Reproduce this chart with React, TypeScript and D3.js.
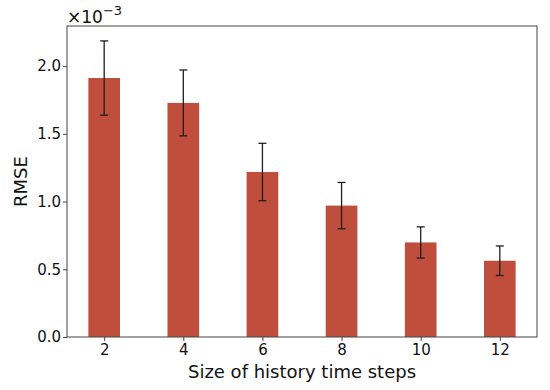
import { useEffect, useRef } from 'react';
import * as d3 from 'd3';

const categories = ['2', '4', '6', '8', '10', '12'];
const rmse = [1.912, 1.728, 1.218, 0.97, 0.698, 0.563];
const rmseErr = [0.274, 0.243, 0.212, 0.171, 0.115, 0.109];
const yTicks = [0, 0.5, 1.0, 1.5, 2.0];

const W = 550;
const H = 390;

export default function App() {
  const svgRef = useRef<SVGSVGElement>(null);

  useEffect(() => {
    if (!svgRef.current) return;
    const margin = { top: 26, right: 13, bottom: 53, left: 67 };
    const innerW = W - margin.left - margin.right;
    const innerH = H - margin.top - margin.bottom;
    const font = 'DejaVu Sans, sans-serif';

    const svg = d3.select(svgRef.current);
    svg.selectAll('*').remove();

    const g = svg.append('g').attr('transform', `translate(${margin.left},${margin.top})`);

    // matplotlib-style linear x: bars at 0..n-1, width 0.4, 5% margins
    const n = categories.length;
    const span = n - 1 + 0.4;
    const x = d3.scaleLinear()
      .domain([-0.2 - span * 0.05, n - 1 + 0.2 + span * 0.05])
      .range([0, innerW]);
    const barW = x(0.4) - x(0);

    const y = d3.scaleLinear().domain([0, 2.296]).range([innerH, 0]);

    // Bars
    g.selectAll('rect.bar')
      .data(rmse)
      .join('rect')
      .attr('class', 'bar')
      .attr('x', (_, i) => x(i) - barW / 2)
      .attr('width', barW)
      .attr('y', d => y(d))
      .attr('height', d => innerH - y(d))
      .attr('fill', '#bf4f3c');

    // Error bars
    const cap = 4;
    rmse.forEach((d, i) => {
      const cx = x(i);
      const lo = y(d - rmseErr[i]);
      const hi = y(d + rmseErr[i]);
      const eg = g.append('g').attr('stroke', '#1f1f1f').attr('stroke-width', 1.3);
      eg.append('line').attr('x1', cx).attr('x2', cx).attr('y1', lo).attr('y2', hi);
      eg.append('line').attr('x1', cx - cap).attr('x2', cx + cap).attr('y1', lo).attr('y2', lo);
      eg.append('line').attr('x1', cx - cap).attr('x2', cx + cap).attr('y1', hi).attr('y2', hi);
    });

    // Frame
    g.append('rect')
      .attr('width', innerW).attr('height', innerH)
      .attr('fill', 'none').attr('stroke', '#444').attr('stroke-width', 1);

    // X axis
    const xAxis = g.append('g')
      .attr('transform', `translate(0,${innerH})`)
      .call(d3.axisBottom(x).tickValues(d3.range(n)).tickFormat((_, i) => categories[i]).tickSize(4).tickPadding(3));
    xAxis.select('.domain').remove();
    xAxis.selectAll('line').attr('stroke', '#444');
    xAxis.selectAll('text').attr('fill', '#111').attr('font-size', '15px').attr('font-family', font);

    // Y axis
    const yAxis = g.append('g')
      .call(d3.axisLeft(y).tickValues(yTicks).tickFormat(d3.format('.1f')).tickSize(4).tickPadding(2));
    yAxis.select('.domain').remove();
    yAxis.selectAll('line').attr('stroke', '#444');
    yAxis.selectAll('text').attr('fill', '#111').attr('font-size', '15px').attr('font-family', font);

    // Offset multiplier
    const mult = svg.append('text')
      .attr('x', margin.left)
      .attr('y', 23)
      .attr('font-family', font)
      .attr('font-size', '17px')
      .attr('fill', '#111');
    mult.append('tspan').text('×10');
    mult.append('tspan').attr('dy', -8).attr('font-size', '13px').text('−3');

    // Axis labels
    svg.append('text')
      .attr('x', margin.left + innerW / 2)
      .attr('y', 378)
      .attr('text-anchor', 'middle')
      .attr('font-family', font)
      .attr('font-size', '18px')
      .attr('fill', '#111')
      .text('Size of history time steps');

    svg.append('text')
      .attr('transform', `translate(27,${margin.top + innerH / 2}) rotate(-90)`)
      .attr('text-anchor', 'middle')
      .attr('font-family', font)
      .attr('font-size', '18px')
      .attr('fill', '#111')
      .text('RMSE');
  }, []);

  return (
    <svg
      ref={svgRef}
      width={W}
      height={H}
      style={{ position: 'absolute', left: 0, top: 0, background: '#fff' }}
    />
  );
}
